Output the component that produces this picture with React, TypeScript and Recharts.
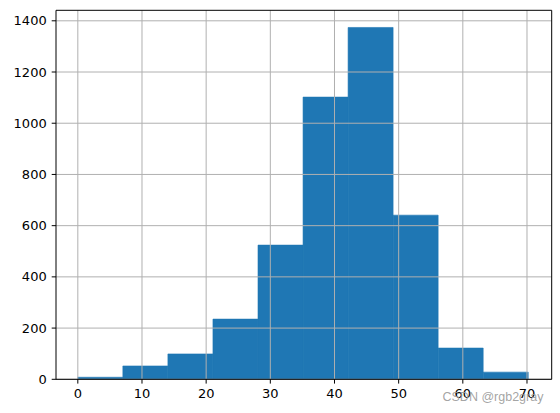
import React from "react";
import { ComposedChart, Bar, XAxis, YAxis, ReferenceLine } from "recharts";

// Histogram bins (centre of each bin) and counts
const binCenters = [3.51, 10.53, 17.55, 24.57, 31.59, 38.61, 45.63, 52.65, 59.67, 66.69];
const counts = [8, 52, 99, 235, 524, 1102, 1374, 641, 122, 28];
const xTicks = [0, 10, 20, 30, 40, 50, 60, 70];
const yTicks = [0, 200, 400, 600, 800, 1000, 1200, 1400];
const xDomain = [-3.4, 73.85];
const yDomain = [0, 1441];
const watermark = "CSDN @rgb2gray";

const data = binCenters.map((x, i) => ({ x, count: counts[i] }));

const tickStyle = { fontFamily: "DejaVu Sans", fontSize: 13, fill: "#000" };
const gridColor = "#b0b0b0";

export default function App() {
  return (
    <div style={{ position: "absolute", left: 0, top: 0, width: 560, height: 413, background: "#fff" }}>
      <ComposedChart
        width={560}
        height={413}
        data={data}
        margin={{ top: 10.3, right: 8.3, left: 0, bottom: 0 }}
        barCategoryGap={0}
        barGap={0}
      >
        <XAxis
          dataKey="x"
          type="number"
          domain={xDomain}
          ticks={xTicks}
          allowDataOverflow
          height={33.7}
          tick={tickStyle}
          tickSize={4.3}
          tickMargin={5.5}
          axisLine={{ stroke: "#000", strokeWidth: 1 }}
          tickLine={{ stroke: "#000", strokeWidth: 1 }}
        />
        <YAxis
          type="number"
          domain={yDomain}
          ticks={yTicks}
          allowDataOverflow
          width={56}
          tick={tickStyle}
          tickSize={4.3}
          tickMargin={5}
          axisLine={{ stroke: "#000", strokeWidth: 1 }}
          tickLine={{ stroke: "#000", strokeWidth: 1 }}
        />
        <Bar dataKey="count" fill="#1f77b4" stroke="#1f77b4" strokeWidth={0.6} isAnimationActive={false} />
        {xTicks.map((t) => (
          <ReferenceLine key={"gx" + t} x={t} stroke={gridColor} strokeWidth={1} />
        ))}
        {yTicks.map((t) => (
          <ReferenceLine key={"gy" + t} y={t} stroke={gridColor} strokeWidth={1} />
        ))}
        <ReferenceLine y={yDomain[1]} stroke="#000" strokeWidth={1} />
        <ReferenceLine x={xDomain[1]} stroke="#000" strokeWidth={1} />
      </ComposedChart>
      <svg width={560} height={413} style={{ position: "absolute", left: 0, top: 0, pointerEvents: "none" }}>
        <text x={442.5} y={401} fontFamily="Liberation Sans" fontSize={12.5} fill="#999" fillOpacity={0.9}>
          {watermark}
        </text>
      </svg>
    </div>
  );
}
